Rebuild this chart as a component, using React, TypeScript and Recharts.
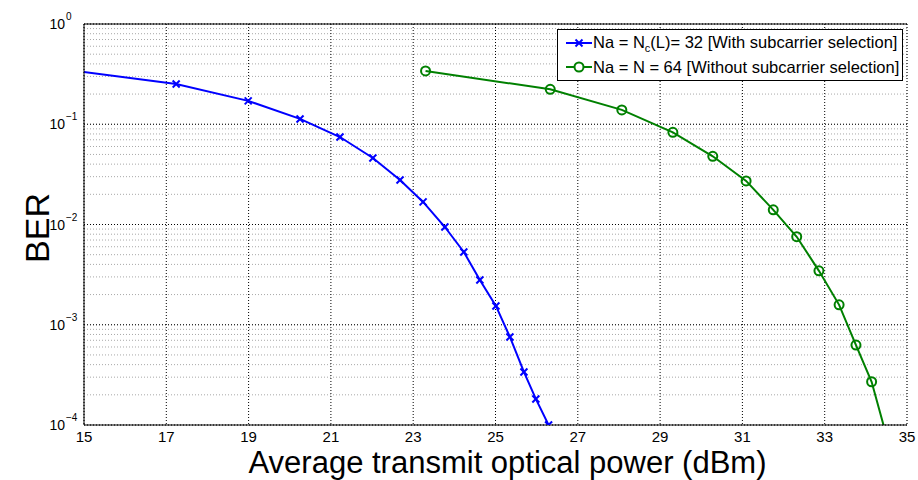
import React from 'react';
import {
  CartesianGrid,
  Label,
  Legend,
  Line,
  LineChart,
  XAxis,
  YAxis,
} from 'recharts';

// Average transmit optical power (dBm) and BER
const withSelectionPower = [14.25, 17.24, 18.99, 20.25, 21.22, 22.02, 22.68, 23.24, 23.77, 24.23, 24.62, 25.01, 25.35, 25.69, 25.98, 26.29];
const withSelectionBer = [0.364, 0.252, 0.171, 0.113, 0.0746, 0.0461, 0.0278, 0.0168, 0.00944, 0.00532, 0.00279, 0.00154, 0.000755, 0.000338, 0.000182, 0.0001];

const withoutSelectionPower = [23.3, 26.33, 28.07, 29.31, 30.28, 31.09, 31.75, 32.32, 32.86, 33.35, 33.76, 34.14, 34.49];
const withoutSelectionBer = [0.34, 0.223, 0.139, 0.0831, 0.0479, 0.0272, 0.014, 0.00755, 0.00345, 0.00158, 0.000627, 0.00027, 0.000081];

const xMajorTicks = [15, 17, 19, 21, 23, 25, 27, 29, 31, 33, 35];
const xAllTicks = [15, 16, 17, 18, 19, 20, 21, 22, 23, 24, 25, 26, 27, 28, 29, 30, 31, 32, 33, 34, 35];
const yMajorTicks = [1e-4, 1e-3, 1e-2, 1e-1, 1];
const yAllTicks = [
  1e-4, 2e-4, 3e-4, 4e-4, 5e-4, 6e-4, 7e-4, 8e-4, 9e-4,
  1e-3, 2e-3, 3e-3, 4e-3, 5e-3, 6e-3, 7e-3, 8e-3, 9e-3,
  1e-2, 2e-2, 3e-2, 4e-2, 5e-2, 6e-2, 7e-2, 8e-2, 9e-2,
  1e-1, 2e-1, 3e-1, 4e-1, 5e-1, 6e-1, 7e-1, 8e-1, 9e-1, 1,
];

const seriesA = withSelectionPower.map((x, i) => ({ x, ber: withSelectionBer[i] }));
const seriesB = withoutSelectionPower.map((x, i) => ({ x, ber: withoutSelectionBer[i] }));

const FONT = '"Liberation Sans", Arial, Helvetica, sans-serif';
const BLUE = '#0000ff';
const GREEN = '#008000';

const noTick = () => <g />;

function XTick({ x, y, payload }: any) {
  return (
    <text x={x} y={y + 17} textAnchor="middle" fontSize={15} fontFamily={FONT} fill="#000">
      {payload.value}
    </text>
  );
}

function YTick({ x, y, payload }: any) {
  const e = Math.round(Math.log10(payload.value));
  return (
    <g fontFamily={FONT} fill="#000">
      <text x={x} y={y + 5} textAnchor="end" fontSize={14}>10</text>
      <text x={x + 1} y={y - 4} fontSize={10}>{e < 0 ? '\u2212' + -e : e}</text>
    </g>
  );
}

function CrossDot({ cx, cy, index }: any) {
  if (cx == null || cy == null) return <g key={index} />;
  const s = 3.5;
  return (
    <g key={index} stroke={BLUE} strokeWidth={2}>
      <line x1={cx - s} y1={cy - s} x2={cx + s} y2={cy + s} />
      <line x1={cx - s} y1={cy + s} x2={cx + s} y2={cy - s} />
    </g>
  );
}

function CircleDot({ cx, cy, index }: any) {
  if (cx == null || cy == null) return <g key={index} />;
  return <circle key={index} cx={cx} cy={cy} r={4.5} stroke={GREEN} strokeWidth={2} fill="none" />;
}

function LegendBox() {
  const row = { display: 'flex', alignItems: 'center', height: 24, whiteSpace: 'nowrap' as const };
  return (
    <div
      style={{
        border: '1px solid #000',
        background: '#fff',
        width: 346,
        height: 52,
        padding: '1px 0 0 8px',
        boxSizing: 'border-box',
        fontFamily: FONT,
        fontSize: 16.5,
        color: '#000',
        lineHeight: '24px',
      }}
    >
      <div style={row}>
        <svg width={26} height={14} style={{ marginRight: 1, flex: 'none' }}>
          <line x1={0} y1={7} x2={26} y2={7} stroke={BLUE} strokeWidth={2} />
          <g stroke={BLUE} strokeWidth={2}>
            <line x1={9.5} y1={3.5} x2={16.5} y2={10.5} />
            <line x1={9.5} y1={10.5} x2={16.5} y2={3.5} />
          </g>
        </svg>
        <span>
          Na = N<span style={{ fontSize: 11, position: 'relative', top: 4 }}>c</span>(L)= 32 [With subcarrier selection]
        </span>
      </div>
      <div style={row}>
        <svg width={26} height={14} style={{ marginRight: 1, flex: 'none' }}>
          <line x1={0} y1={7} x2={26} y2={7} stroke={GREEN} strokeWidth={2} />
          <circle cx={13} cy={7} r={4.5} stroke={GREEN} strokeWidth={2} fill="#fff" />
        </svg>
        <span>Na = N = 64 [Without subcarrier selection]</span>
      </div>
    </div>
  );
}

export default function App() {
  return (
    <div style={{ position: 'absolute', left: 0, top: 0, width: 918, height: 480, background: '#fff' }}>
      <LineChart width={918} height={480} margin={{ top: 24, right: 11, bottom: 0, left: 0 }}>
        {/* minor grid first, major grid drawn over it */}
        <CartesianGrid xAxisId="xAll" yAxisId="yL" stroke="#a8a8a8" strokeDasharray="1 2" />
        <CartesianGrid stroke="#000" strokeDasharray="1 2" />

        <XAxis
          dataKey="x"
          type="number"
          domain={[15, 35]}
          ticks={xMajorTicks}
          interval={0}
          allowDataOverflow
          tickSize={0}
          tickMargin={0}
          tickLine={false}
          axisLine={{ stroke: '#000' }}
          height={55}
          tick={XTick}
        >
          <Label
            content={({ viewBox }: any) => (
              <text
                x={viewBox.x + viewBox.width / 2 + 12}
                y={viewBox.y + 48}
                textAnchor="middle"
                fontSize={31}
                fontFamily={FONT}
                fill="#000"
              >
                Average transmit optical power (dBm)
              </text>
            )}
          />
        </XAxis>
        <YAxis
          type="number"
          scale="log"
          domain={[1e-4, 1]}
          ticks={yMajorTicks}
          interval={0}
          allowDataOverflow
          tickSize={0}
          tickMargin={19}
          tickLine={false}
          axisLine={{ stroke: '#000' }}
          width={84}
          tick={YTick}
        >
          <Label
            content={({ viewBox }: any) => {
              const cx = viewBox.x + 37;
              const cy = viewBox.y + 204;
              return (
                <text
                  x={cx}
                  y={cy}
                  transform={`rotate(-90 ${cx} ${cy})`}
                  textAnchor="middle"
                  dominantBaseline="central"
                  fontSize={34}
                  fontFamily={FONT}
                  fill="#000"
                >
                  BER
                </text>
              );
            }}
          />
        </YAxis>

        {/* inward tick marks and box edges */}
        <XAxis xAxisId="xTop" orientation="top" mirror type="number" domain={[15, 35]} allowDataOverflow ticks={xMajorTicks} interval={0} tickSize={5} tickLine={{ stroke: '#000' }} axisLine={{ stroke: '#000' }} tick={noTick} />
        <XAxis xAxisId="xBot" orientation="bottom" mirror type="number" domain={[15, 35]} allowDataOverflow ticks={xMajorTicks} interval={0} tickSize={5} tickLine={{ stroke: '#000' }} axisLine={false} tick={noTick} />
        <XAxis xAxisId="xAll" orientation="bottom" mirror type="number" domain={[15, 35]} allowDataOverflow ticks={xAllTicks} interval={0} tickLine={false} axisLine={false} tick={noTick} />
        <YAxis yAxisId="yL" orientation="left" mirror type="number" scale="log" domain={[1e-4, 1]} allowDataOverflow ticks={yAllTicks} interval={0} tickSize={5} tickLine={{ stroke: '#000' }} axisLine={false} tick={noTick} width={0} />
        <YAxis yAxisId="yR" orientation="right" mirror type="number" scale="log" domain={[1e-4, 1]} allowDataOverflow ticks={yAllTicks} interval={0} tickSize={5} tickLine={{ stroke: '#000' }} axisLine={{ stroke: '#000' }} tick={noTick} width={0} />

        <Line
          data={seriesA}
          dataKey="ber"
          name="Na = Nc(L)= 32 [With subcarrier selection]"
          stroke={BLUE}
          strokeWidth={2}
          dot={CrossDot}
          isAnimationActive={false}
        />
        <Line
          data={seriesB}
          dataKey="ber"
          name="Na = N = 64 [Without subcarrier selection]"
          stroke={GREEN}
          strokeWidth={2}
          dot={CircleDot}
          isAnimationActive={false}
        />

        <Legend
          layout="vertical"
          align="center"
          verticalAlign="middle"
          content={LegendBox}
          wrapperStyle={{ position: 'absolute', left: 557, top: 29, width: 346 }}
        />
      </LineChart>
    </div>
  );
}
